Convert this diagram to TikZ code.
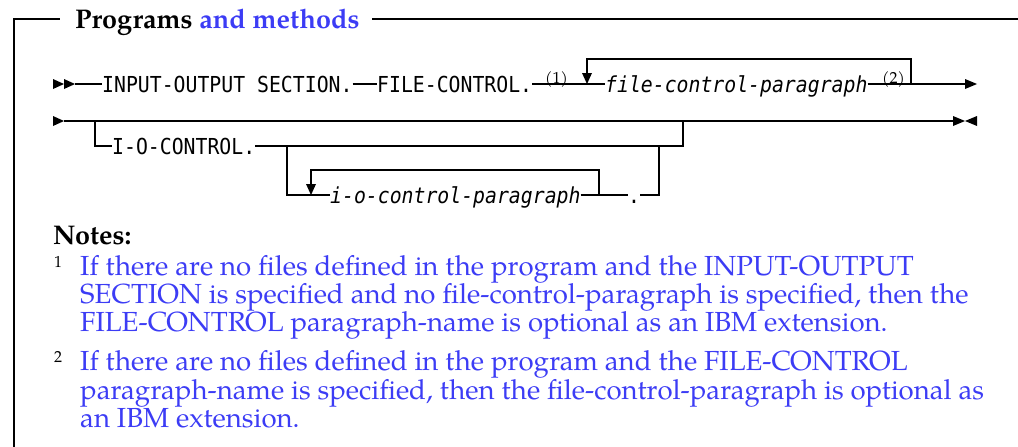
\documentclass[tikz,border=0pt]{standalone}
\usepackage{fontspec}
\setmainfont{texgyrepagella}[Extension=.otf,UprightFont=*-regular,BoldFont=*-bold,ItalicFont=*-italic,BoldItalicFont=*-bolditalic]
\setmonofont{DejaVu Sans Mono}[FakeStretch=0.9]
\usetikzlibrary{calc}
\definecolor{noteblue}{RGB}{60,60,245}
\begin{document}
\begin{tikzpicture}[x=1pt,y=-1pt,
  rail/.style={line width=1.3pt},
  boxline/.style={line width=1.6pt},
  kw/.style={inner sep=0pt, anchor=base west, font=\fontsize{22}{22}\selectfont\ttfamily},
  vartext/.style={inner sep=0pt, anchor=base west, font=\fontsize{22}{22}\selectfont\ttfamily\itshape},
  suptext/.style={inner sep=0pt, anchor=base west, font=\fontsize{16}{16}\selectfont},
  arrowtip/.style={fill=black, draw=none},
  notetext/.style={inner sep=0pt, anchor=base west, text=noteblue, font=\fontsize{27.6}{28.5}\selectfont},
  titletext/.style={inner sep=0pt, anchor=base west, font=\fontsize{27}{28}\selectfont\bfseries}]
\useasboundingbox (0,0) rectangle (1018,447);

% frame and title
\node[titletext] (title) at (75,28) {Programs \textcolor{noteblue}{and methods}};
\coordinate (fbl) at (14,447);
\coordinate (ftl) at (14,19);
\coordinate (ftr) at (1018,19);
\draw[boxline] (fbl) -- (ftl) -- ($(ftl)+(46,0)$);
\draw[boxline] (372,19) -- (ftr);

% ---------- line 1 ----------
\fill[arrowtip] (53,79) -- (53,89) -- (64,84) -- cycle;
\fill[arrowtip] (64,79) -- (64,89) -- (75,84) -- cycle;
\coordinate (s1) at (75,84);
\node[kw] (ios) at (102,92) {INPUT-OUTPUT SECTION.};
\node[kw] (fc) at (377,92) {FILE-CONTROL.};
\node[suptext] (n1) at (545,83) {(1)};
\node[vartext] (fcp) at (605,92) {file-control-paragraph};
\node[suptext] (n2) at (882,83) {(2)};
\coordinate (e1) at (965,84);
\draw[rail] (s1) -- (s1 -| ios.west);
\draw[rail] (s1 -| ios.east) -- (s1 -| fc.west);
\draw[rail] (s1 -| fc.east) -- (s1 -| fcp.west);
\draw[rail] (s1 -| fcp.east) -- (e1);
% repeat loop
\coordinate (l1a) at (587,73);
\coordinate (l1b) at (911,84);
\draw[rail] (l1a) -- (587,59) -- (911,59) -- (l1b);
\fill[arrowtip] (582,73) -- (592,73) -- (587,84) -- cycle;
\fill[arrowtip] (965,79) -- (965,89) -- (977,84) -- cycle;

% ---------- line 2 ----------
\fill[arrowtip] (53,116) -- (53,126) -- (64,121) -- cycle;
\coordinate (s2) at (64,121);
\coordinate (e2) at (953,121);
\draw[rail] (s2) -- (e2);
\fill[arrowtip] (953,116) -- (953,126) -- (965,121) -- cycle;
\fill[arrowtip] (977,116) -- (977,126) -- (965,121) -- cycle;

\node[kw] (ioc) at (112,154) {I-O-CONTROL.};
\coordinate (b1) at (95,121);
\coordinate (b2) at (683,121);
\draw[rail] (b1) -- (95,146) -- (95,146 -| ioc.west);
\draw[rail] (ioc.east |- 0,146) -- (683,146) -- (b2);

\node[vartext] (iocp) at (330,203) {i-o-control-paragraph};
\node[kw] (dot) at (628,203) {.};
\coordinate (c1) at (287,146);
\coordinate (c2) at (659,146);
\draw[rail] (c1) -- (287,195) -- (iocp.west |- 0,195);
\draw[rail] (iocp.east |- 0,195) -- (dot.west |- 0,195);
\draw[rail] (dot.east |- 0,195) -- (659,195) -- (c2);
\coordinate (l2a) at (311,184);
\coordinate (l2b) at (599,195);
\draw[rail] (l2a) -- (311,170) -- (599,170) -- (l2b);
\fill[arrowtip] (306,184) -- (316,184) -- (311,195) -- cycle;

% ---------- notes ----------
\node[titletext] (notes) at (53,244) {Notes:};
\node[suptext] (m1) at (54,267) {1};
\node[notetext] (t11) at (80,275) {If there are no files defined in the program and the INPUT-OUTPUT};
\node[notetext] (t12) at (80,303) {SECTION is specified and no file-control-paragraph is specified, then the};
\node[notetext] (t13) at (80,331) {FILE-CONTROL paragraph-name is optional as an IBM extension.};
\node[suptext] (m2) at (54,362) {2};
\node[notetext] (t21) at (80,370) {If there are no files defined in the program and the FILE-CONTROL};
\node[notetext] (t22) at (80,399) {paragraph-name is specified, then the file-control-paragraph is optional as};
\node[notetext] (t23) at (80,427) {an IBM extension.};
\end{tikzpicture}
\end{document}
